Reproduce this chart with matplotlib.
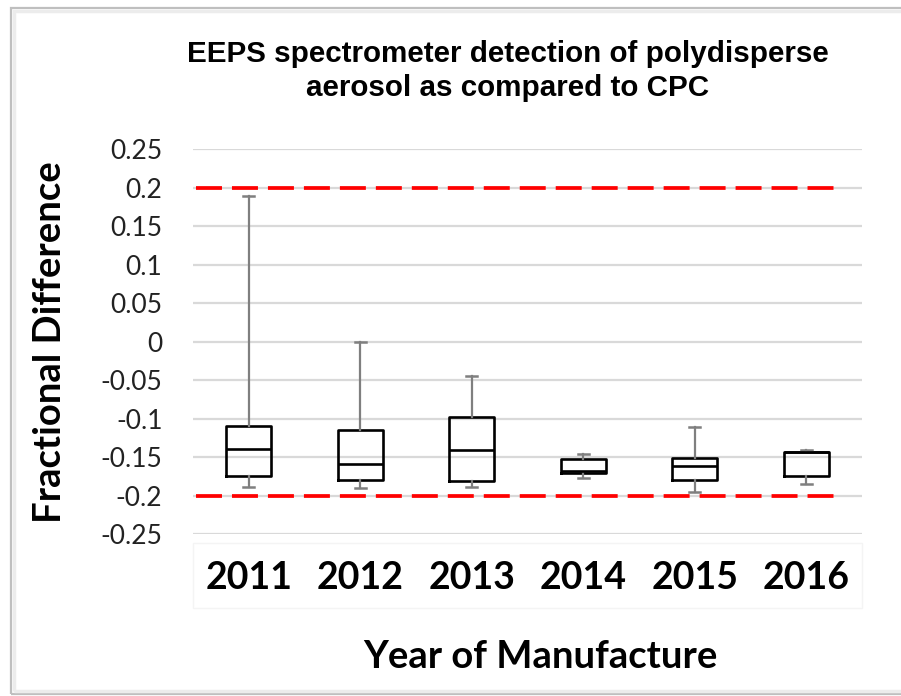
import matplotlib
matplotlib.use("Agg")
import matplotlib.pyplot as plt
from matplotlib.patches import Rectangle

# ---- data ----
years = ["2011", "2012", "2013", "2014", "2015", "2016"]
whisker_low = [-0.189, -0.190, -0.189, -0.177, -0.195, -0.185]
q1 = [-0.174, -0.179, -0.181, -0.170, -0.180, -0.174]
median = [-0.139, -0.159, -0.141, -0.168, -0.161, -0.143]
q3 = [-0.110, -0.115, -0.098, -0.152, -0.151, -0.143]
whisker_high = [0.189, -0.001, -0.045, -0.146, -0.111, -0.141]
limit_values = [0.2, -0.2]
yticks = [0.25, 0.2, 0.15, 0.1, 0.05, 0, -0.05, -0.1, -0.15, -0.2, -0.25]
ytick_labels = ["0.25", "0.2", "0.15", "0.1", "0.05", "0", "-0.05", "-0.1", "-0.15", "-0.2", "-0.25"]
title = "EEPS spectrometer detection of polydisperse\naerosol as compared to CPC"
ylabel = "Fractional Difference"
xlabel = "Year of Manufacture"

plt.rcParams["lines.scale_dashes"] = False
W, H = 901, 696
fig = plt.figure(figsize=(W / 100, H / 100), dpi=100)
ax = fig.add_axes([193 / W, 1 - 534.2 / H, (862 - 193) / W, (534.2 - 149.2) / H])

positions = list(range(1, len(years) + 1))

# gridlines
for v in yticks:
    ax.axhline(v, color="#d9d9d9", lw=1.6, zorder=0)

stats = []
for i, y in enumerate(years):
    stats.append(dict(label=y, whislo=whisker_low[i], q1=q1[i], med=median[i],
                      q3=q3[i], whishi=whisker_high[i], fliers=[]))

ax.bxp(stats, positions=positions, widths=0.40, capwidths=0.1, showfliers=False,
       boxprops=dict(color="black", linewidth=1.9),
       medianprops=dict(color="black", linewidth=1.9),
       whiskerprops=dict(color="#7f7f7f", linewidth=1.6),
       capprops=dict(color="#7f7f7f", linewidth=1.8),
       zorder=3)

for v in limit_values:
    ax.hlines(v, 0.527, 6.30, colors="#ff0000", linewidth=2.7,
              linestyles=(0, (18.7, 7.2)), zorder=2)

ax.set_xlim(0.5, 6.5)
ax.set_ylim(-0.25, 0.25)
ax.set_yticks(yticks)
ax.set_yticklabels(ytick_labels, fontfamily="Lato", fontsize=19, color="#222222")
ax.set_xticks(positions)
ax.set_xticklabels(years, fontfamily="Lato", fontweight="bold", fontsize=27)
ax.tick_params(axis="both", length=0)
ax.tick_params(axis="y", pad=22)
ax.tick_params(axis="x", pad=19)
for s in ax.spines.values():
    s.set_visible(False)

ax.set_ylabel(ylabel, fontfamily="Lato", fontweight="bold", fontsize=27.5)
ax.yaxis.set_label_coords(-0.188, 0.5)
ax.set_xlabel(xlabel, fontfamily="Lato", fontweight="bold", fontsize=27.5)
ax.xaxis.set_label_coords(0.52, -0.319)
ax.xaxis.label.set_va("center")

fig.text(508 / W, 1 - 71 / H, title, ha="center", va="center",
         fontfamily="Liberation Sans", fontweight="bold", fontsize=21.3,
         linespacing=1.3)

# faint box around category labels
fig.add_artist(Rectangle((193 / W, 1 - 608 / H), (862 - 193) / W, (608 - 543) / H,
                         transform=fig.transFigure, fill=False,
                         edgecolor="#f4f4f4", lw=1.0))
# outer frame
fig.add_artist(Rectangle((11 / W, 1 - 694 / H), (W + 10 - 11) / W, (694 - 8) / H,
                         transform=fig.transFigure, fill=False,
                         edgecolor="#bfbfbf", lw=1.6))
fig.add_artist(Rectangle((14 / W, 1 - 691 / H), (W + 10 - 14) / W, (691 - 11) / H,
                         transform=fig.transFigure, fill=False,
                         edgecolor="#ececec", lw=2.5))

fig.savefig("out.png", dpi=100)
